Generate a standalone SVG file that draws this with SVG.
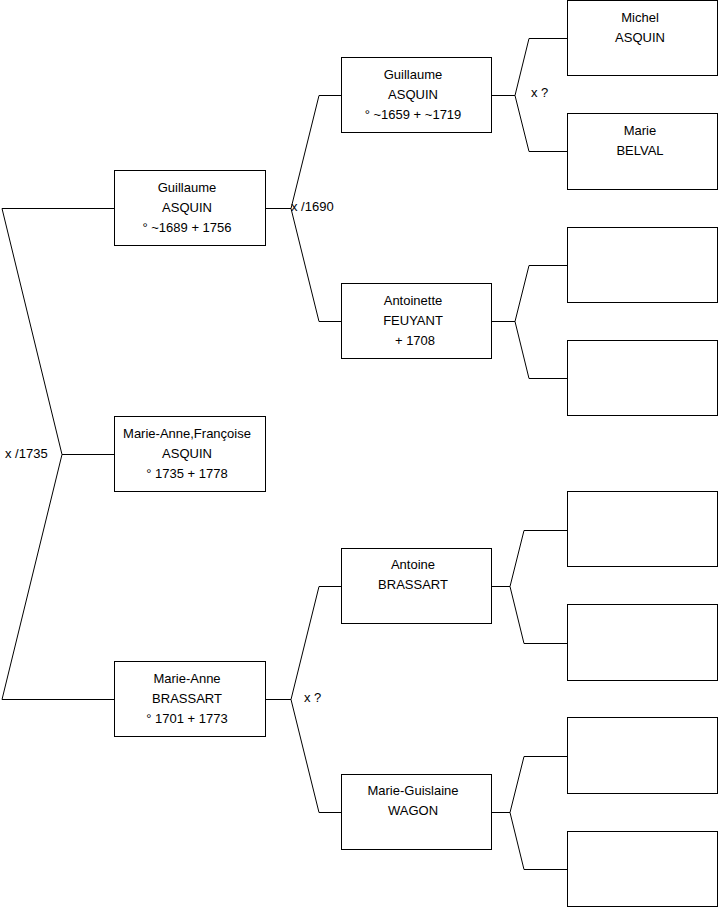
<svg xmlns="http://www.w3.org/2000/svg" width="719" height="908" viewBox="0 0 719 908">
<style>
.box{fill:#fff;stroke:#000;stroke-width:1}
.t{font-family:"Liberation Sans",Arial,sans-serif;font-size:13px;fill:#000;text-anchor:middle}
.l{font-family:"Liberation Sans",Arial,sans-serif;font-size:13px;fill:#000}
.c{fill:none;stroke:#000;stroke-width:1}
</style>
<rect width="719" height="908" fill="#fff"/>
<g id="connectors">
<path class="c" d="M114,454.5 H62 L2,208.5 H114 M62,454.5 L2,699.5 H114"/>
<path class="c" d="M265,208.5 H291 L319,95.5 H341 M291,208.5 L319,321.5 H341"/>
<path class="c" d="M265,699.5 H291 L319,586.5 H341 M291,699.5 L319,812.5 H341"/>
<path class="c" d="M491,95.5 H515 L529,38.5 H567 M515,95.5 L529,151.5 H567"/>
<path class="c" d="M491,321.5 H515 L529,265.5 H567 M515,321.5 L529,378.5 H567"/>
<path class="c" d="M491,586.5 H510 L524,530.5 H567 M510,586.5 L524,643.5 H567"/>
<path class="c" d="M491,812.5 H510 L524,756.5 H567 M510,812.5 L524,869.5 H567"/>
<text class="l" x="5" y="458">x /1735</text>
<text class="l" x="291" y="211">x /1690</text>
<text class="l" x="531" y="97">x ?</text>
<text class="l" x="304" y="702">x ?</text>
</g>
<g id="n-guillaume-1689">
<rect class="box" x="114.5" y="170.5" width="151" height="75"/>
<text class="t" x="187" y="191.5">Guillaume</text>
<text class="t" x="187" y="211.5">ASQUIN</text>
<text class="t" x="187" y="231.5">° ~1689 + 1756</text>
</g>
<g id="n-marie-anne-francoise">
<rect class="box" x="114.5" y="416.5" width="151" height="75"/>
<text class="t" x="187" y="437.5">Marie-Anne,Françoise</text>
<text class="t" x="187" y="457.5">ASQUIN</text>
<text class="t" x="187" y="477.5">° 1735 + 1778</text>
</g>
<g id="n-marie-anne-brassart">
<rect class="box" x="114.5" y="661.5" width="151" height="75"/>
<text class="t" x="187" y="682.5">Marie-Anne</text>
<text class="t" x="187" y="702.5">BRASSART</text>
<text class="t" x="187" y="722.5">° 1701 + 1773</text>
</g>
<g id="n-guillaume-1659">
<rect class="box" x="341.5" y="57.5" width="150" height="75"/>
<text class="t" x="413" y="78.5">Guillaume</text>
<text class="t" x="413" y="98.5">ASQUIN</text>
<text class="t" x="413" y="118.5">° ~1659 + ~1719</text>
</g>
<g id="n-antoinette">
<rect class="box" x="341.5" y="283.5" width="150" height="75"/>
<text class="t" x="413" y="304.5">Antoinette</text>
<text class="t" x="413" y="324.5">FEUYANT</text>
<text class="t" x="415" y="344.5">+ 1708</text>
</g>
<g id="n-antoine">
<rect class="box" x="341.5" y="548.5" width="150" height="75"/>
<text class="t" x="413" y="569">Antoine</text>
<text class="t" x="413" y="589">BRASSART</text>
</g>
<g id="n-marie-guislaine">
<rect class="box" x="341.5" y="774.5" width="150" height="75"/>
<text class="t" x="413" y="795">Marie-Guislaine</text>
<text class="t" x="413" y="815">WAGON</text>
</g>
<g id="n-michel">
<rect class="box" x="567.5" y="0.5" width="150" height="75"/>
<text class="t" x="640" y="21.5">Michel</text>
<text class="t" x="640" y="41.5">ASQUIN</text>
</g>
<g id="n-marie-belval">
<rect class="box" x="567.5" y="113.5" width="150" height="76"/>
<text class="t" x="640" y="134.5">Marie</text>
<text class="t" x="640" y="154.5">BELVAL</text>
</g>
<g id="n-empty-1"><rect class="box" x="567.5" y="227.5" width="150" height="75"/></g>
<g id="n-empty-2"><rect class="box" x="567.5" y="340.5" width="150" height="75"/></g>
<g id="n-empty-3"><rect class="box" x="567.5" y="491.5" width="150" height="75"/></g>
<g id="n-empty-4"><rect class="box" x="567.5" y="604.5" width="150" height="76"/></g>
<g id="n-empty-5"><rect class="box" x="567.5" y="717.5" width="150" height="76"/></g>
<g id="n-empty-6"><rect class="box" x="567.5" y="831.5" width="150" height="75"/></g>
</svg>
